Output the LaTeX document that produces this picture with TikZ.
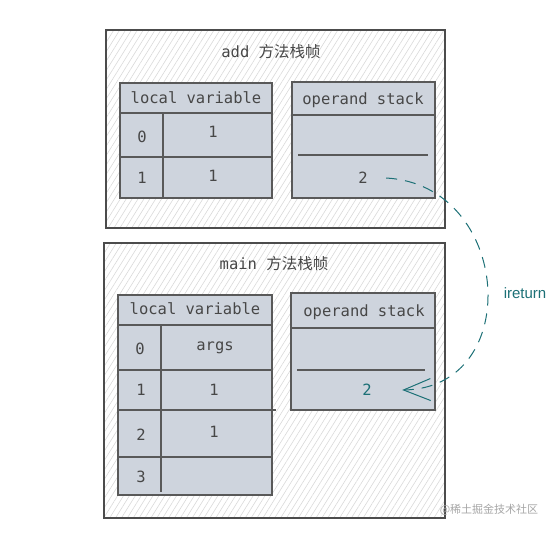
\documentclass[tikz,border=0pt]{standalone}
\usepackage{fontspec}
\setmonofont{DejaVu Sans Mono}
\setsansfont{Liberation Sans}
\newfontfamily\cjk{Noto Sans CJK SC}
\usetikzlibrary{patterns.meta,arrows.meta,positioning}
\definecolor{cellfill}{RGB}{206,212,221}
\definecolor{retteal}{RGB}{28,112,118}
\begin{document}
\begin{tikzpicture}[x=1pt,y=-1pt,
  frame/.style={draw=black!70,line width=1.2pt,pattern={Lines[angle=58,distance=5pt,line width=0.6pt]},pattern color=black!15},
  cellbox/.style={draw=black!65,line width=1.4pt,fill=cellfill},
  cellrule/.style={draw=black!65,line width=1.2pt},
  txt/.style={font=\ttfamily\fontsize{15.5}{17}\selectfont,text=black!72},
  ret/.style={draw=retteal,line width=1pt,dash pattern=on 11pt off 8pt,-{Straight Barb[length=27pt,width=22pt]}}]
\useasboundingbox (0,0) rectangle (556,533);
% add frame
\draw[frame] (106,30) rectangle (445,228);
\node[txt] (addtitle) at (271,52) {add {\cjk 方法栈帧}};
\draw[cellbox] (120,83) rectangle (272,198);
\draw[cellrule] (120,113) -- (272,113);
\draw[cellrule] (120,157) -- (272,157);
\draw[cellrule] (163,113) -- (163,198);
\node[txt] (addlvh) at (196,98) {local variable};
\node[txt] (addlv0) at (142,137) {0};
\node[txt] (addlv0v) at (213,132) {1};
\node[txt] (addlv1) at (142,178) {1};
\node[txt] (addlv1v) at (213,176) {1};
\draw[cellbox] (292,82) rectangle (435,198);
\draw[cellrule] (292,115) -- (435,115);
\draw[cellrule] (298,155) -- (428,155);
\node[txt] (addosh) at (363,100) {operand stack};
\node[txt] (add2) at (363,178) {2};
% main frame
\draw[frame] (104,243) rectangle (445,518);
\node[txt] (maintitle) at (274,264) {main {\cjk 方法栈帧}};
\draw[cellbox] (118,295) rectangle (272,495);
\draw[cellrule] (118,325) -- (272,325);
\draw[cellrule] (118,370) -- (272,370);
\draw[cellrule] (118,410) -- (276,410);
\draw[cellrule] (118,457) -- (272,457);
\draw[cellrule] (161,325) -- (161,492);
\node[txt] (mainlvh) at (195,309) {local variable};
\node[txt] (mainlv0) at (140,349) {0};
\node[txt] (mainlv0v) at (215,348) {args};
\node[txt] (mainlv1) at (141,390) {1};
\node[txt] (mainlv1v) at (214,390) {1};
\node[txt] (mainlv2) at (141,435) {2};
\node[txt] (mainlv2v) at (214,432) {1};
\node[txt] (mainlv3) at (141,477) {3};
\draw[cellbox] (291,293) rectangle (435,410);
\draw[cellrule] (291,328) -- (435,328);
\draw[cellrule] (297,370) -- (425,370);
\node[txt] (mainosh) at (364,312) {operand stack};
\node[txt,text=retteal] (main2) at (367,390) {2};
% ireturn
\draw[ret] ([xshift=15pt]add2.east) .. controls (512,185) and (525,388) .. ([xshift=27pt]main2.east);
\node[font=\sffamily\fontsize{15}{17}\selectfont,text=retteal] (retlabel) at (525,293) {ireturn};
\node[font=\cjk\fontsize{11}{13}\selectfont,text=black!35] (mark) at (489,510) {@稀土掘金技术社区};
\end{tikzpicture}
\end{document}
